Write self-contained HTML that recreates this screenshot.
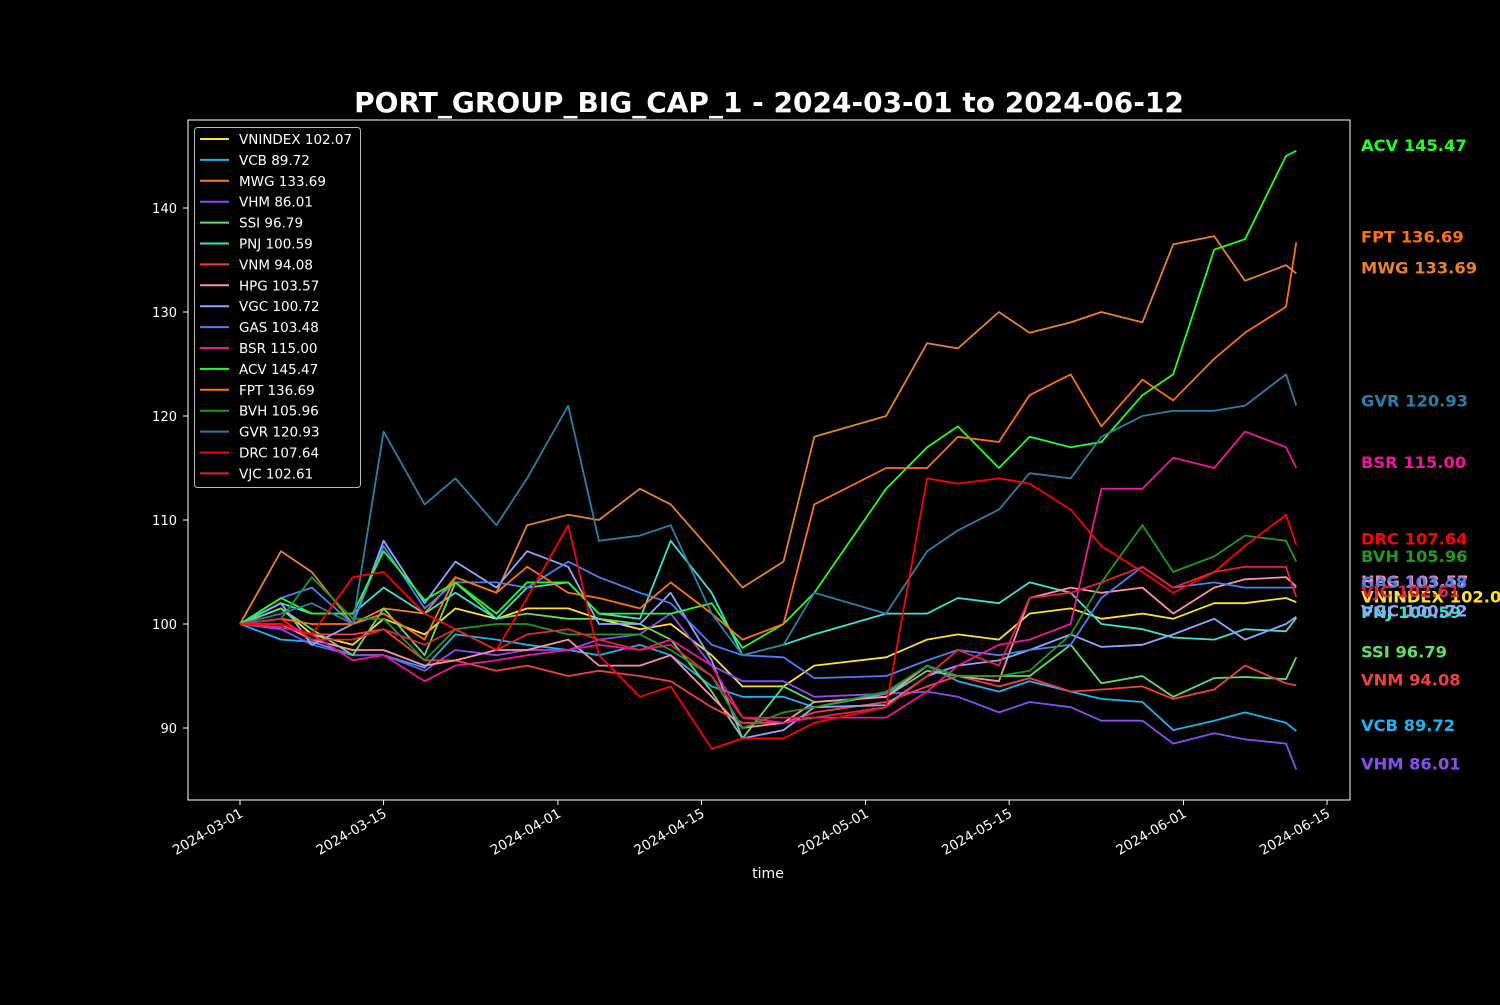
<!DOCTYPE html>
<html><head><meta charset="utf-8"><style>
body{margin:0;background:#000;}
svg text{font-family:"DejaVu Sans","Liberation Sans",sans-serif;}
</style></head><body>
<svg id="chart" width="1500" height="1000" xmlns="http://www.w3.org/2000/svg">
<rect width="1500" height="1000" fill="#000"/>
<text x="769" y="112" fill="#fff" font-size="28" font-weight="bold" text-anchor="middle">PORT_GROUP_BIG_CAP_1 - 2024-03-01 to 2024-06-12</text>
<g id="lines"></g>
<rect x="188" y="120" width="1162" height="680" fill="none" stroke="#fff" stroke-width="1"/>
<g id="axes"></g>
<g id="labels"></g>
<text x="768" y="878" fill="#fff" font-size="14" text-anchor="middle">time</text>
<g id="legend"></g>
</svg>
<script>
const dayOffsets=[0,4,7,11,14,18,21,25,28,32,35,39,42,46,49,53,56,63,67,70,74,77,81,84,88,91,95,98,102,103];
const seriesNames=["VNINDEX","VCB","MWG","VHM","SSI","PNJ","VNM","HPG","VGC","GAS","BSR","ACV","FPT","BVH","GVR","DRC","VJC"];
const finalValues=["102.07","89.72","133.69","86.01","96.79","100.59","94.08","103.57","100.72","103.48","115.00","145.47","136.69","105.96","120.93","107.64","102.61"];
const seriesColors=["#ffe135","#1fb3f0","#e8822a","#8b4cf0","#5fe05f","#40e0d0","#f04040","#ff8fa8","#8ea8ff","#4c7ff0","#f0149b","#22ff22","#ff7010","#1e9a1e","#2a7fa8","#ff0000","#e0233a"];
const VNINDEX=[100,101.5,99,98,100.5,99,101.5,100.5,101.5,101.5,100.5,99.5,100,97,94,94,96,96.8,98.5,99,98.5,101,101.5,100.5,101,100.5,102,102,102.5,102.1];
const VCB=[100,98.5,98.3,97,97,95.8,99,98.5,98,97.5,97,98,97,94,93,93,92,93.3,96,94.5,93.5,94.5,93.5,92.8,92.5,89.8,90.7,91.5,90.5,89.7];
const MWG=[100,107,105,100,101.5,101,104.5,103,109.5,110.5,110,113,111.5,107,103.5,106,118,120,127,126.5,130,128,129,130,129,136.5,137.3,133,134.5,133.7];
const VHM=[100,99.5,98,97,97,95.5,97.5,97,97.5,97.5,98.5,99,101,96,94.5,94.5,93,93.3,93.5,93,91.5,92.5,92,90.7,90.7,88.5,89.5,88.9,88.5,86];
const SSI=[100,101.5,99.5,97,101.5,97,104,100.5,101,100.5,100.5,100,98.5,93.5,89,94,92.5,93,95.5,95,95,95,98,94.3,95,93,94.8,94.9,94.7,96.8];
const PNJ=[100,102,101,101,103.5,101,103,100.5,103.5,104,101,100.5,108,103,97,98,99,101,101,102.5,102,104,103,100,99.5,98.7,98.5,99.5,99.3,100.6];
const VNM=[100,99.7,99,99,99.5,96.5,96.5,95.5,96,95,95.5,95,94.5,92,90.5,90.5,91.5,92.5,94,95,94,94.8,93.5,93.7,94,92.8,93.7,96,94.3,94.1];
const HPG=[100,100,98.5,97.5,97.5,96,96.5,97.5,97.5,98.5,96,96,97,93,90,90.5,92.5,93,96,95,94.5,102.5,103.5,103,103.5,101,103.5,104.3,104.5,103.6];
const VGC=[100,102,98,100,108,102,106,103.5,107,105.5,100,100,103,96.5,89,89.8,92,92.2,95,96,96.5,97.5,99,97.8,98,99,100.5,98.5,100,100.7];
const GAS=[100,102.5,103.5,100,107.5,101.5,104,104,103.5,106,104.5,103,102,98,97,96.8,94.8,95,96.5,97.5,97,97.5,98,102.5,105.5,103.5,104,103.5,103.5,103.5];
const BSR=[100,99.7,99,96.5,97,94.5,96,96.5,97,97.5,98,97.5,98.5,96,91,90.5,91,91,93.5,96,98,98.5,100,113,113,116,115,118.5,117,115];
const ACV=[100,102.5,101,101,107,102.3,104,101,104,104,101,101,101,102,97.7,100,103,113,117,119,115,118,117,117.5,122,124,136,137,145,145.5];
const FPT=[100,100.5,100,100,101,98.5,104.5,103,105.5,103,102.5,101.5,104,101,98.5,100,111.5,115,115,118,117.5,122,124,119,123.5,121.5,125.5,128,130.5,136.7];
const BVH=[100,100.5,104.5,100.5,100.5,96.5,99.5,100,100,99,99,99,97.5,95,90,91.5,92,93.5,96,95,95,95.5,99,104,109.5,105,106.5,108.5,108,106];
const GVR=[100,101,102,100,118.5,111.5,114,109.5,114,121,108,108.5,109.5,101,97,98,103,101,107,109,111,114.5,114,118,120,120.5,120.5,121,124,121];
const DRC=[100,100,99,104.5,105,101,99.5,97.5,102.5,109.5,97,93,94,88,89,89,90.5,92,114,113.5,114,113.5,111,107.5,105,103,105,107.5,110.5,107.6];
const VJC=[100,100.5,98.5,98.5,99.5,98,99.5,97.5,99,99.5,98.5,97.5,98,95,91,91,91,92,95,97.5,96,102.5,103,104,105.5,103.5,105,105.5,105.5,102.6];
const yTicks=[90,100,110,120,130,140];
const xTickLabels=["2024-03-01","2024-03-15","2024-04-01","2024-04-15","2024-05-01","2024-05-15","2024-06-01","2024-06-15"];
const xTickOffsets=[0,14,31,45,61,75,92,106];

const seriesData=[VNINDEX,VCB,MWG,VHM,SSI,PNJ,VNM,HPG,VGC,GAS,BSR,ACV,FPT,BVH,GVR,DRC,VJC];
const NS="http://www.w3.org/2000/svg";
function xScale(d){return 240+d*10.255;}
function yScale(v){return 624-(v-100)*10.4;}
function mk(t,a,p){const e=document.createElementNS(NS,t);for(const k in a)e.setAttribute(k,a[k]);p.appendChild(e);return e;}
const gl=document.getElementById('lines');
seriesData.forEach((vals,i)=>{
  const pts=vals.map((v,j)=>xScale(dayOffsets[j]).toFixed(1)+','+yScale(v).toFixed(1)).join(' ');
  const el=mk('polyline',{points:pts,fill:'none',stroke:seriesColors[i],'stroke-width':1.8,'stroke-linejoin':'round'},gl);
  
  
});
const ga=document.getElementById('axes');
yTicks.forEach(t=>{
  const y=yScale(t);
  const tk=mk('line',{x1:183,x2:188,y1:y,y2:y,stroke:'#fff'},ga);
  
  
  const tx=mk('text',{x:177,y:y+5,fill:'#fff','font-size':13,'text-anchor':'end'},ga);
  tx.textContent=t;
  
  
});
xTickLabels.forEach((l,i)=>{
  const x=xScale(xTickOffsets[i]);
  const tk=mk('line',{x1:x,x2:x,y1:800,y2:805,stroke:'#fff'},ga);
  
  
  const tx=mk('text',{x:x+4,y:816,fill:'#fff','font-size':13.5,'text-anchor':'end',transform:`rotate(-30 ${x+4} 816)`},ga);
  tx.textContent=l;
  
  
});
const glb=document.getElementById('labels');
seriesNames.forEach((n,i)=>{
  const tx=mk('text',{x:1361,y:yScale(parseFloat(finalValues[i])),fill:seriesColors[i],'font-size':16.3,'font-weight':'bold'},glb);
  tx.textContent=n+' '+finalValues[i];
  
  
});
const gg=document.getElementById('legend');
const box=mk('rect',{x:194.5,y:127.5,width:166,height:360,rx:3,fill:'#000',stroke:'#bbb','stroke-width':1},gg);


seriesNames.forEach((n,i)=>{
  const y=139+i*20.9;
  const ln=mk('line',{x1:200,x2:229,y1:y,y2:y,stroke:seriesColors[i],'stroke-width':2},gg);
  
  
  const tx=mk('text',{x:239,y:y+5,fill:'#fff','font-size':13.5},gg);
  tx.textContent=n+' '+finalValues[i];
  
  
});
</script>
</body></html>
